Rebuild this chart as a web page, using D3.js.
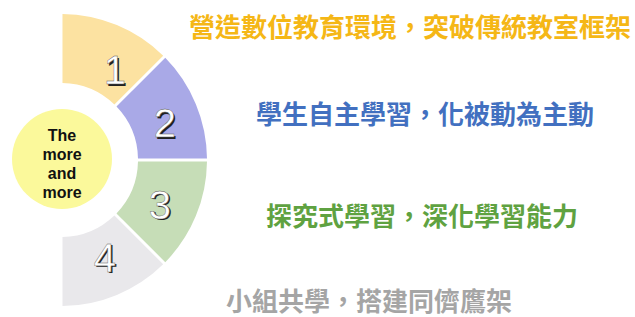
<!DOCTYPE html>
<html>
<head>
<meta charset="utf-8">
<script src="https://cdn.jsdelivr.net/npm/d3@7"></script>
<style>
  html, body { margin: 0; padding: 0; background: #ffffff; }
  svg { display: block; }
</style>
</head>
<body>
<svg id="chart" width="635" height="317"></svg>
<script>
// ---- data ----
const categories = ["1", "2", "3", "4"];
const values = [1, 1, 1, 1];
const descriptions = [
  "營造數位教育環境，突破傳統教室框架",
  "學生自主學習，化被動為主動",
  "探究式學習，深化學習能力",
  "小組共學，搭建同儕鷹架"
];
const centerLines = ["The", "more", "and", "more"];

// ---- styles ----
const segColors = ["#FCE2A1", "#A9A9E7", "#C6DDB7", "#E9E8EB"];
const textColors = ["#F5B716", "#4270C0", "#5FA241", "#A5A5A5"];
const textPos = [
  { x: 189, y: 25 },
  { x: 256, y: 112 },
  { x: 266, y: 214 },
  { x: 226, y: 299 }
];
const labelNudge = [[13, 9], [5, 4], [0, 4], [3, -1]];

const svg = d3.select("#chart");
const cx = 61, cy = 160;
const g = svg.append("g").attr("transform", `translate(${cx},${cy})`);

const pieData = d3.pie().sort(null).startAngle(0).endAngle(Math.PI).padAngle(0.018)
  .value(d => d.v)(values.map((v, i) => ({ v, i })));

const arc = d3.arc().innerRadius(77).outerRadius(146);
const labelArc = d3.arc().innerRadius(107).outerRadius(107);

g.selectAll("path.seg")
  .data(pieData)
  .join("path")
  .attr("class", "seg")
  .attr("d", arc)
  .attr("fill", (d, i) => segColors[i]);

// number labels with shadow
const lab = g.selectAll("g.lab")
  .data(pieData)
  .join("g")
  .attr("class", "lab")
  .attr("transform", (d, i) => {
    const [x, y] = labelArc.centroid(d);
    return `translate(${x + labelNudge[i][0]},${y + labelNudge[i][1]})`;
  });

lab.append("text")
  .attr("x", 1.5).attr("y", 1.5)
  .attr("text-anchor", "middle")
  .attr("dominant-baseline", "central")
  .attr("font-family", "Liberation Sans, Arial, sans-serif")
  .attr("font-size", 40)
  .attr("fill", "#222")
  .text((d, i) => categories[i]);

lab.append("text")
  .attr("text-anchor", "middle")
  .attr("dominant-baseline", "central")
  .attr("font-family", "Liberation Sans, Arial, sans-serif")
  .attr("font-size", 40)
  .attr("fill", "#ffffff")
  .attr("stroke", "#555")
  .attr("stroke-width", 0.4)
  .text((d, i) => categories[i]);

// center circle
svg.append("circle")
  .attr("cx", 62).attr("cy", 159).attr("r", 50)
  .attr("fill", "#FBF99B");

svg.append("g")
  .selectAll("text")
  .data(centerLines)
  .join("text")
  .attr("x", 62)
  .attr("y", (d, i) => 135 + i * 19)
  .attr("text-anchor", "middle")
  .attr("dominant-baseline", "central")
  .attr("font-family", "Liberation Sans, Arial, sans-serif")
  .attr("font-weight", "bold")
  .attr("font-size", 16)
  .attr("fill", "#111")
  .text(d => d);

// descriptions
svg.append("g")
  .selectAll("text")
  .data(descriptions)
  .join("text")
  .attr("x", (d, i) => textPos[i].x)
  .attr("y", (d, i) => textPos[i].y)
  .attr("dominant-baseline", "central")
  .attr("font-family", "Noto Sans CJK TC, Noto Sans CJK SC, sans-serif")
  .attr("font-weight", "bold")
  .attr("font-size", 26)
  .attr("fill", (d, i) => textColors[i])
  .text(d => d);
</script>
</body>
</html>
